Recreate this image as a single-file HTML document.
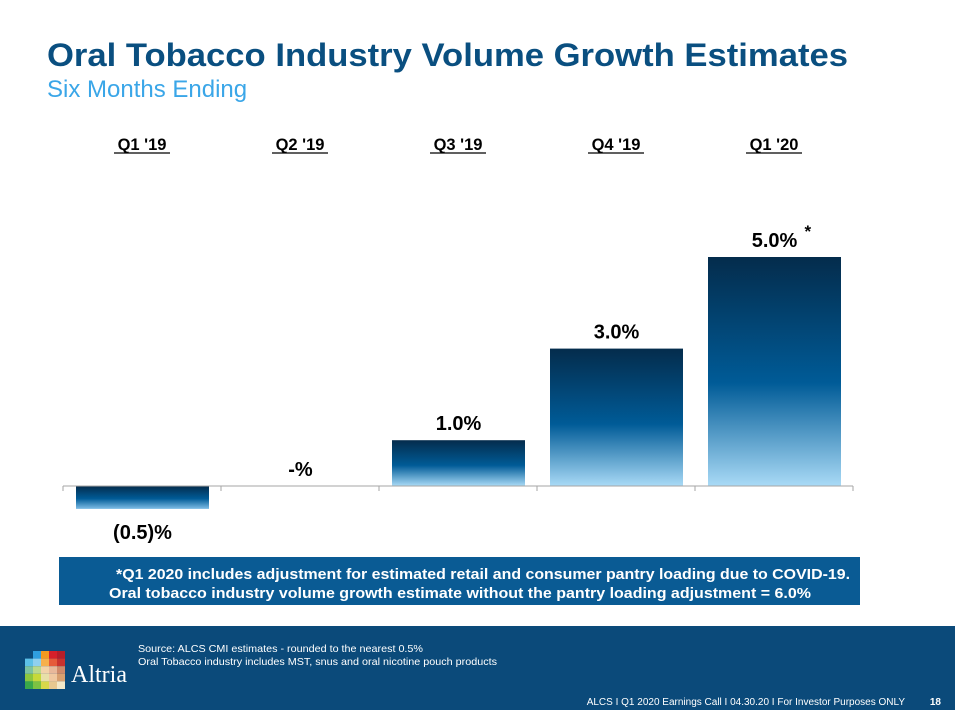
<!DOCTYPE html>
<html><head><meta charset="utf-8"><style>
html,body{margin:0;padding:0;background:#fff;}
svg{display:block;font-family:"Liberation Sans",Arial,sans-serif;}
</style></head><body>
<svg id="chart" width="955" height="710" viewBox="0 0 955 710">
<defs>
<linearGradient id="gpos" x1="0" y1="0" x2="0" y2="1">
<stop offset="0" stop-color="#042c4c"/><stop offset="0.55" stop-color="#005b97"/><stop offset="1" stop-color="#a9daf6"/>
</linearGradient>
<linearGradient id="gneg" x1="0" y1="0" x2="0" y2="1">
<stop offset="0" stop-color="#042c4c"/><stop offset="0.55" stop-color="#005b97"/><stop offset="1" stop-color="#7fbde6"/>
</linearGradient>
</defs>
<text x="47" y="66" font-size="32" font-weight="bold" fill="#0a4f80" textLength="801" lengthAdjust="spacingAndGlyphs">Oral Tobacco Industry Volume Growth Estimates</text>
<text x="47" y="97" font-size="24" fill="#3aa6e8">Six Months Ending</text>
<g id="plot"></g>
<rect x="59" y="557" width="801" height="48" fill="#0a5b94"/>
<text x="116" y="579" font-size="15" font-weight="bold" fill="#fff" textLength="734" lengthAdjust="spacingAndGlyphs">*Q1 2020 includes adjustment for estimated retail and consumer pantry loading due to COVID-19.</text>
<text x="109" y="598" font-size="15" font-weight="bold" fill="#fff" textLength="702" lengthAdjust="spacingAndGlyphs">Oral tobacco industry volume growth estimate without the pantry loading adjustment = 6.0%</text>
<rect x="0" y="626" width="955" height="84" fill="#0b4a7a"/>
<g id="logo"></g>
<text x="71" y="682" font-size="24" fill="#fff" font-family="Liberation Serif,serif">Altria</text>
<text x="138" y="652" font-size="10.5" fill="#fff" textLength="285" lengthAdjust="spacingAndGlyphs">Source: ALCS CMI estimates - rounded to the nearest 0.5%</text>
<text x="138" y="665" font-size="10.5" fill="#fff" textLength="359" lengthAdjust="spacingAndGlyphs">Oral Tobacco industry includes MST, snus and oral nicotine pouch products</text>
<text x="905" y="705" font-size="10" fill="#fff" text-anchor="end">ALCS I Q1 2020 Earnings Call I 04.30.20 I For Investor Purposes ONLY</text>
<text x="941" y="705" font-size="10" font-weight="bold" fill="#fff" text-anchor="end">18</text>
</svg>
<script>
const categories = ["Q1 '19","Q2 '19","Q3 '19","Q4 '19","Q1 '20"];
const values = [-0.5, 0, 1.0, 3.0, 5.0];
const valueLabels = ["(0.5)%","-%","1.0%","3.0%","5.0%"];
const NS="http://www.w3.org/2000/svg";
const plot=document.getElementById('plot');
const x0=63, band=158, zeroY=486, pxPerUnit=45.8, barW=133, barOff=13;
const xPos=i=>x0+i*band;
const yPos=v=>zeroY - v*pxPerUnit;
function mk(tag,attrs){const e=document.createElementNS(NS,tag);for(const k in attrs)e.setAttribute(k,attrs[k]);plot.appendChild(e);return e;}
categories.forEach((c,i)=>{
  const v=values[i];
  const cx=xPos(i)+band/2;
  const t=mk('text',{x:cx,y:150,'font-size':16.5,'font-weight':'bold','text-anchor':'middle',fill:'#000'});
  t.textContent=c;
  
  
  const u=mk('line',{x1:cx-28,x2:cx+28,y1:153,y2:153,stroke:'#000','stroke-width':1.3});
  
  
  if(v!==0){
    const top=Math.min(yPos(v),zeroY), h=Math.abs(yPos(v)-zeroY);
    const r=mk('rect',{x:xPos(i)+barOff,y:top,width:barW,height:h,fill:v>0?'url(#gpos)':'url(#gneg)'});
    
    
  }
  const ly = v>=0 ? yPos(v)-10 : yPos(v)+30;
  const l=mk('text',{x:xPos(i)+barOff+barW/2,y:ly,'font-size':20,'font-weight':'bold','text-anchor':'middle',fill:'#000'});
  l.textContent=valueLabels[i];
  
  
  if(i===categories.length-1){
    const s=mk('text',{x:xPos(i)+barOff+barW/2+30,y:ly-10,'font-size':17,'font-weight':'bold',fill:'#000'});
    s.textContent='*';
    
    
  }
});
const ax=mk('line',{x1:x0,x2:x0+band*categories.length,y1:zeroY,y2:zeroY,stroke:'#a6a6a6','stroke-width':1});


for(let i=0;i<=categories.length;i++){
  const tk=mk('line',{x1:xPos(i),x2:xPos(i),y1:zeroY,y2:zeroY+5,stroke:'#a6a6a6'});
  
  
}
const logo=document.getElementById('logo');
const cols=[["#1a8fd6","#2f9fe0","#f39a1f","#d6202a","#b51e2a"],["#5cc0e8","#8fd0ee","#f6b04c","#e55a3a","#c8322e"],["#7cc2a0","#b9d98c","#f2d3a8","#e8b89a","#d08a6a"],["#8cc63f","#c6d93a","#e8e0a8","#f0c8a0","#d9a070"],["#3aa84a","#7cc242","#d8d84a","#e8c890","#f4e8c8"]];
cols.forEach((row,r)=>row.forEach((col,c)=>{
  if((r===0&&c===0)) return;
  const e=document.createElementNS(NS,'rect');
  e.setAttribute('x',25+c*8);e.setAttribute('y',651+r*7.6);e.setAttribute('width',8);e.setAttribute('height',7.6);e.setAttribute('fill',col);
  
  
  logo.appendChild(e);
}));
</script>
</body></html>
